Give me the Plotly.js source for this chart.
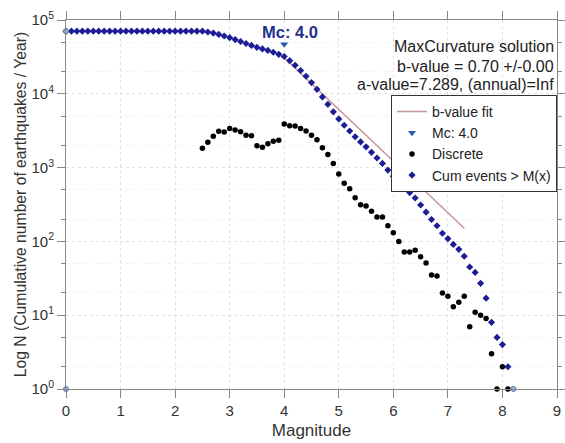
<!DOCTYPE html>
<html>
<head>
<meta charset="utf-8">
<script src="https://cdn.plot.ly/plotly-3.0.1.min.js"></script>
<style>
html,body{margin:0;padding:0;background:#fff;}
#chart{width:565px;height:443px;}
</style>
</head>
<body>
<div id="chart"></div>
<script>
// Cumulative events > M(x), magnitudes 0.0 .. 8.1 step 0.1
var cumMag = [0.0,0.1,0.2,0.3,0.4,0.5,0.6,0.7,0.8,0.9,1.0,1.1,1.2,1.3,1.4,1.5,1.6,1.7,1.8,1.9,
  2.0,2.1,2.2,2.3,2.4,2.5,2.6,2.7,2.8,2.9,3.0,3.1,3.2,3.3,3.4,3.5,3.6,3.7,3.8,3.9,
  4.0,4.1,4.2,4.3,4.4,4.5,4.6,4.7,4.8,4.9,5.0,5.1,5.2,5.3,5.4,5.5,5.6,5.7,5.8,5.9,
  6.0,6.1,6.2,6.3,6.4,6.5,6.6,6.7,6.8,6.9,7.0,7.1,7.2,7.3,7.4,7.5,7.6,7.7,7.8,7.9,
  8.0,8.1];
var cumN = [70500,70500,70500,70500,70500,70500,70500,70500,70500,70500,70500,70500,70500,70500,70500,70500,70500,70500,70500,70500,
  70500,70500,70500,70500,70500,70500,68700,66500,63800,60700,57700,54300,51100,48000,45300,42600,40600,38700,36600,34300,
  32000,28100,24400,20700,17300,14200,11500,9070,7200,5700,4570,3750,3130,2620,2230,1910,1610,1350,1140,925,
  762,631,531,459,387,311,249,198,163,129,109,91,78,63,45,38,27,17,8,5,
  4,2];

// Discrete (non-cumulative) counts
var discMag = [2.5,2.6,2.7,2.8,2.9,3.0,3.1,3.2,3.3,3.4,3.5,3.6,3.7,3.8,3.9,
  4.0,4.1,4.2,4.3,4.4,4.5,4.6,4.7,4.8,4.9,5.0,5.1,5.2,5.3,5.4,5.5,5.6,5.7,5.8,5.9,
  6.0,6.1,6.2,6.3,6.4,6.5,6.6,6.7,6.8,6.9,7.0,7.1,7.2,7.3,7.4,7.5,7.6,7.7,7.8,7.9,8.0,8.1];
var discN = [1830,2200,2650,3100,3030,3400,3230,3060,2740,2700,1980,1880,2110,2270,2340,
  3900,3700,3660,3400,3130,2740,2390,1860,1500,1140,820,612,518,391,314,302,256,214,214,163,
  131,100,72,72,76,62,51,35,34,20,18,13,15,18,7,11,10,9,3,1,2,1];

// Extra end points drawn as light-blue circles
var endMag = [0.0, 0.0, 8.2];
var endN = [70500, 1, 1];

// b-value fit line end points (log N = a - b M)
var fitMag = [4.0, 7.3];
var fitN = [30800, 151];

// Mc marker
var mcMag = [4.0];
var mcN = [47000];

// y tick labels
var yTickVals = [1, 10, 100, 1000, 10000, 100000];
var yTickText = ['10<sup>0</sup>', '10<sup>1</sup>', '10<sup>2</sup>', '10<sup>3</sup>', '10<sup>4</sup>', '10<sup>5</sup>'];

var FONT = 'Liberation Sans, Arial, sans-serif';

var traces = [
  {x: fitMag, y: fitN, mode: 'lines', name: 'b-value fit',
   line: {color: '#c49494', width: 1.5}, legendrank: 1},
  {x: cumMag, y: cumN, mode: 'markers', name: 'Cum events > M(x)',
   marker: {symbol: 'diamond', size: 5.5, color: '#1c1c96'}, legendrank: 4, cliponaxis: false},
  {x: discMag, y: discN, mode: 'markers', name: 'Discrete',
   marker: {symbol: 'circle', size: 5.5, color: '#000000'}, legendrank: 3, cliponaxis: false},
  {x: mcMag, y: mcN, mode: 'markers', name: 'Mc: 4.0',
   marker: {symbol: 'triangle-down', size: 7, color: '#2b5aa8'}, legendrank: 2},
  {x: endMag, y: endN, mode: 'markers', showlegend: false, hoverinfo: 'skip',
   marker: {symbol: 'circle', size: 5, color: '#9db8dc', line: {color: '#4f72b0', width: 1}}, cliponaxis: false}
];

var layout = {
  width: 565, height: 443,
  margin: {l: 66, r: 8, t: 20, b: 54},
  paper_bgcolor: '#ffffff', plot_bgcolor: '#ffffff',
  font: {family: FONT, size: 15, color: '#333333'},
  showlegend: true,
  legend: {x: 1, xanchor: 'right', y: 0.797, yanchor: 'top',
    bgcolor: '#ffffff', bordercolor: '#333333', borderwidth: 1,
    font: {family: FONT, size: 14, color: '#222222'}, tracegroupgap: 0, itemwidth: 30},
  xaxis: {
    range: [0, 9], dtick: 1, tick0: 0,
    showline: true, linecolor: '#888888', linewidth: 1, mirror: 'ticks',
    ticks: 'outside', ticklen: 8, tickcolor: '#888888',
    showgrid: true, gridcolor: '#e2e2e2', griddash: 'dot', zeroline: false,
    tickfont: {family: FONT, size: 15, color: '#333333'},
    title: {text: 'Magnitude', font: {family: FONT, size: 17, color: '#333333'}, standoff: 6}
  },
  yaxis: {
    type: 'log', range: [0, 5], tickmode: 'array', tickvals: yTickVals, ticktext: yTickText,
    showline: true, linecolor: '#888888', linewidth: 1, mirror: 'ticks',
    ticks: 'outside', ticklen: 8, tickcolor: '#888888',
    showgrid: true, gridcolor: '#e2e2e2', griddash: 'dot', zeroline: false,
    minor: {ticks: 'outside', ticklen: 4, tickcolor: '#888888', showgrid: true, gridcolor: '#f1f1f1', griddash: 'dot'},
    tickfont: {family: FONT, size: 15, color: '#333333'},
    title: {text: 'Log N (Cumulative number of earthquakes / Year)', font: {family: FONT, size: 15.7, color: '#333333'}, standoff: 0}
  },
  annotations: [
    {xref: 'x', yref: 'y', x: 4.1, y: 4.84, text: '<b>Mc: 4.0</b>', showarrow: false,
     font: {family: FONT, size: 16.5, color: '#23318f'}, xanchor: 'center', yanchor: 'middle'},
    {xref: 'paper', yref: 'paper', x: 0.998, y: 0.927, xanchor: 'right', yanchor: 'middle',
     text: 'MaxCurvature solution', showarrow: false, font: {family: FONT, size: 16, color: '#222222'}},
    {xref: 'paper', yref: 'paper', x: 0.998, y: 0.873, xanchor: 'right', yanchor: 'middle',
     text: 'b-value = 0.70 +/-0.00', showarrow: false, font: {family: FONT, size: 16, color: '#222222'}},
    {xref: 'paper', yref: 'paper', x: 0.998, y: 0.826, xanchor: 'right', yanchor: 'middle',
     text: 'a-value=7.289, (annual)=Inf', showarrow: false, font: {family: FONT, size: 16, color: '#222222'}}
  ]
};

Plotly.newPlot('chart', traces, layout, {displayModeBar: false, staticPlot: true});
</script>
</body>
</html>
